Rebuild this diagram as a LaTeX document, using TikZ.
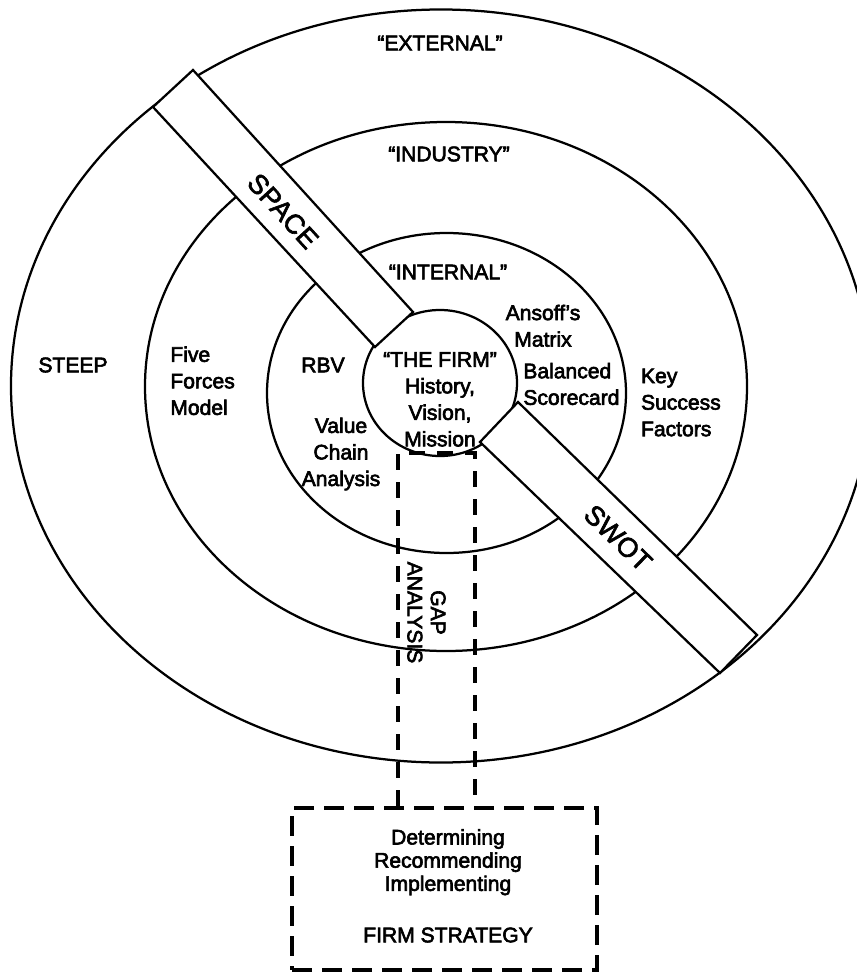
\documentclass[tikz,border=0pt]{standalone}
\usepackage{fontspec}
\setmainfont{Liberation Sans}
\newcommand\heavyon{\special{pdf:literal direct 2 Tr 0.35 w}}
\newcommand\heavyoff{\special{pdf:literal direct 0 Tr}}
\begin{document}
\begin{tikzpicture}[x=0.2mm,y=-0.2mm,
  ring/.style={line width=0.45mm},
  band/.style={line width=0.45mm, fill=white, line join=miter},
  gapline/.style={line width=0.85mm, dash pattern=on 3.2mm off 2.4mm},
  boxline/.style={draw, line width=0.85mm, dash pattern=on 4mm off 2mm},
  heavy/.style={execute at begin node=\heavyon, execute at end node=\heavyoff},
  lbl/.style={heavy, font=\fontsize{12}{15.1}\selectfont, inner sep=0pt, align=center},
  boxlbl/.style={heavy, font=\fontsize{12}{13.2}\selectfont, inner sep=0pt, align=center},
  bandlbl/.style={heavy, font=\fontsize{15.5}{18}\selectfont, inner sep=0pt}]
\fill[white] (0,0) rectangle (857,974);
\useasboundingbox (0,0) rectangle (857,974);
% rings
\draw[ring] (441,386) ellipse [x radius=86mm, y radius=75.3mm];
\draw[ring] (446,386.5) ellipse [x radius=60.2mm, y radius=52.9mm];
\draw[ring] (446.5,393) ellipse [x radius=35.9mm, y radius=32mm];
\draw[ring] (440,383) ellipse [x radius=15.4mm, y radius=14.6mm];
% SPACE band
\coordinate (sp1) at (193,70);
\coordinate (sp2) at (413,312);
\coordinate (sp3) at (375,347);
\coordinate (sp4) at (153,107);
\draw[band] (sp1) -- (sp2) -- (sp3) -- (sp4) -- cycle;
% SWOT band
\coordinate (sw1) at (518,402);
\coordinate (sw2) at (757,635);
\coordinate (sw3) at (720,673);
\coordinate (sw4) at (480,442);
\draw[band] (sw1) -- (sw2) -- (sw3) -- (sw4) -- cycle;
% strategy box and gap analysis lines
\node[boxline, minimum width=61mm, minimum height=32.4mm] (box) at (444.5,889) {};
\coordinate (gtl) at (398,453);
\coordinate (gtr) at (475,453);
\draw[gapline] (gtl |- box.north) -- (gtl) -- (gtr) -- (gtr |- box.north);
% labels
\node[lbl] (ext) at (440,43) {“EXTERNAL”};
\node[lbl] (ind) at (449,154) {“INDUSTRY”};
\node[lbl] (int) at (448,272) {“INTERNAL”};
\node[lbl] (steep) at (73,365) {STEEP};
\node[lbl, anchor=west, align=left] (five) at (170,380.8) {Five\\Forces\\Model};
\node[lbl] (rbv) at (323,365) {RBV};
\node[lbl] (vca) at (341,454) {Value\\Chain\\Analysis};
\node[lbl] (firm) at (440,399.4) {“THE FIRM”\\History,\\Vision,\\Mission};
\node[lbl] (ans) at (543,325.8) {Ansoff’s\\Matrix};
\node[lbl, anchor=west, align=left] (bsc) at (523,384) {Balanced\\Scorecard};
\node[lbl, anchor=west, align=left] (ksf) at (640.7,402.5) {Key\\Success\\Factors};
\node[boxlbl, rotate=-90] (gap) at (426.5,612.5) {GAP\\ANALYSIS};
\node[bandlbl, rotate=-47.7] (space) at (283,211) {SPACE};
\node[bandlbl, rotate=-44] (swot) at (618,538) {SWOT};
\node[boxlbl] (dri) at (448,862.2) {Determining\\Recommending\\Implementing};
\node[boxlbl] (fs) at (448,935) {FIRM STRATEGY};
\end{tikzpicture}
\end{document}
